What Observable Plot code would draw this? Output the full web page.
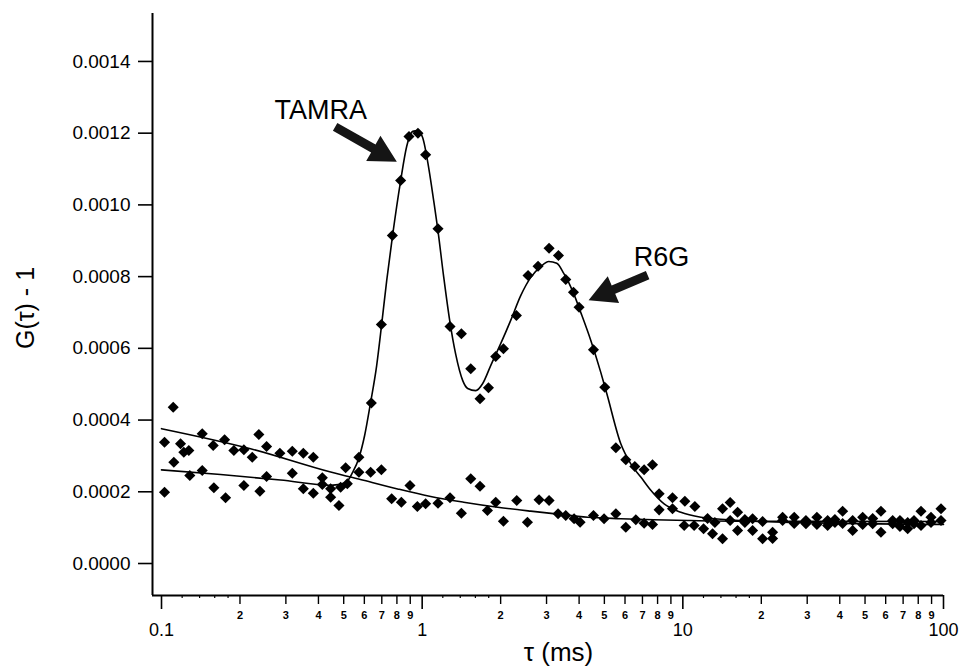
<!DOCTYPE html>
<html><head><meta charset="utf-8">
<script src="https://cdn.jsdelivr.net/npm/d3@7"></script>
<script src="https://cdn.jsdelivr.net/npm/@observablehq/plot@0.6"></script>
<style>body{margin:0;background:#fff}</style>
</head><body><div id="chart"></div>
<script>
// ---- Scatter series A (two-component sample, peaked) ----
const tauA = [0.1027, 0.1115, 0.1218, 0.1284, 0.1433, 0.1588, 0.1761, 0.2070, 0.2385, 0.2530,
  0.3175, 0.3500, 0.3823, 0.4140, 0.4455, 0.4866, 0.5163, 0.5719, 0.6383, 0.6974,
  0.7685, 0.8268, 0.8900, 0.9635, 1.031, 1.150, 1.279, 1.414, 1.536, 1.667,
  1.796, 1.915, 2.050, 2.299, 2.548, 2.783, 3.068, 3.333, 3.555, 3.806,
  3.999, 4.541, 5.018, 5.534, 6.042, 6.544, 7.103, 7.650, 8.110, 9.129,
  10.18, 11.12, 12.44, 13.27, 14.20, 15.19, 16.22, 17.30, 18.52, 20.23,
  22.10, 24.14, 26.75, 29.66, 32.68, 35.93, 38.32, 41.02, 44.82, 48.97,
  53.50, 57.54, 63.83, 68.07, 72.87, 77.05, 81.97, 89.54, 97.81];
const gA = [0.0001988, 0.0002825, 0.0003104, 0.0002454, 0.0002593, 0.0002111, 0.0001832, 0.0002175, 0.0002016, 0.0002426,
  0.0002518, 0.0002083, 0.0001960, 0.0002203, 0.0002083, 0.0002128, 0.0002223, 0.0002964, 0.0004476, 0.0006665,
  0.0009147, 0.0010680, 0.0011907, 0.0011999, 0.0011397, 0.0009333, 0.0006609, 0.0006405, 0.0005429, 0.0004593,
  0.0004900, 0.0005772, 0.0005987, 0.0006916, 0.0008031, 0.0008291, 0.0008792, 0.0008589, 0.0007920, 0.0007565,
  0.0007147, 0.0005959, 0.0004916, 0.0003226, 0.0002892, 0.0002705, 0.0002613, 0.0002752, 0.0001944, 0.0001832,
  0.0001737, 0.0001589, 0.0001255, 0.0001143, 0.0000689, 0.0001199, 0.0000920, 0.0001143, 0.0000920, 0.0000689,
  0.0000697, 0.0001199, 0.0001115, 0.0001107, 0.0001291, 0.0001060, 0.0001143, 0.0001458, 0.0000920, 0.0001291,
  0.0001107, 0.0001458, 0.0001107, 0.0001199, 0.0000968, 0.0001107, 0.0001458, 0.0001291, 0.0001525];

// ---- Scatter series B (single decaying component) ----
const tauB = [0.1027, 0.1109, 0.1183, 0.1273, 0.1433, 0.1579, 0.1746, 0.1895, 0.2070, 0.2229,
  0.2363, 0.2530, 0.2845, 0.3175, 0.3500, 0.3823, 0.4140, 0.4455, 0.4794, 0.5086,
  0.5719, 0.6343, 0.6974, 0.7637, 0.8320, 0.8979, 0.9584, 1.031, 1.150, 1.279,
  1.414, 1.536, 1.667, 1.780, 1.915, 2.050, 2.306, 2.534, 2.808, 3.068,
  3.322, 3.555, 3.827, 4.035, 4.541, 4.987, 5.534, 6.042, 6.602, 7.103,
  7.650, 8.110, 9.129, 10.12, 11.05, 12.01, 13.00, 14.20, 15.19, 16.22,
  17.30, 18.52, 20.23, 22.10, 24.14, 26.75, 29.66, 32.68, 35.93, 38.32,
  41.02, 44.82, 48.97, 53.50, 57.54, 63.83, 68.07, 72.87, 77.05, 81.97, 89.54, 97.81];
const gB = [0.0003383, 0.0004359, 0.0003338, 0.0003151, 0.0003617, 0.0003291, 0.0003449, 0.0003151, 0.0003171, 0.0002964,
  0.0003597, 0.0003263, 0.0003076, 0.0003132, 0.0003076, 0.0002964, 0.0002390, 0.0001849, 0.0001617, 0.0002669,
  0.0002546, 0.0002546, 0.0002613, 0.0001804, 0.0001709, 0.0002175, 0.0001589, 0.0001665, 0.0001682, 0.0001832,
  0.0001403, 0.0002362, 0.0002156, 0.0001478, 0.0001709, 0.0001180, 0.0001757, 0.0001152, 0.0001776, 0.0001757,
  0.0001386, 0.0001339, 0.0001247, 0.0001152, 0.0001339, 0.0001247, 0.0001386, 0.0001012, 0.0001219, 0.0001124,
  0.0001088, 0.0001497, 0.0001525, 0.0001060, 0.0001060, 0.0000968, 0.0000828, 0.0001525, 0.0001701, 0.0001431,
  0.0001227, 0.0001247, 0.0001171, 0.0000873, 0.0001291, 0.0001291, 0.0001199, 0.0001088, 0.0001199, 0.0001227,
  0.0001115, 0.0001199, 0.0001088, 0.0001255, 0.0000873, 0.0001199, 0.0001032, 0.0001143, 0.0001199, 0.0001060, 0.0001143, 0.0001199];

// ---- Fitted curves ----
const fitTauA = [0.1, 0.1685, 0.286, 0.4455, 0.509, 0.541, 0.571, 0.6015, 0.634, 0.669,
  0.699, 0.731, 0.770, 0.827, 0.872, 0.920, 0.961, 1.004, 1.059, 1.107,
  1.147, 1.209, 1.275, 1.345, 1.431, 1.495, 1.605, 1.707, 1.832, 2.001,
  2.186, 2.388, 2.610, 2.851, 3.059, 3.284, 3.493, 3.783, 4.060, 4.436,
  4.844, 5.108, 5.781, 6.315, 6.898, 7.536, 8.476, 9.824, 11.73, 14.85, 28.38, 100];
const fitGA = [0.000261, 0.000248, 0.000233, 0.000218, 0.000225, 0.000254, 0.000293, 0.000357, 0.000449, 0.000552,
  0.000666, 0.000789, 0.000915, 0.001068, 0.001163, 0.001205, 0.001207, 0.001188, 0.001104, 0.001012,
  0.000934, 0.000800, 0.000678, 0.000583, 0.000510, 0.000488, 0.000482, 0.000502, 0.000552, 0.000613,
  0.000678, 0.000747, 0.000798, 0.000828, 0.000842, 0.000837, 0.000809, 0.000759, 0.000700, 0.000622,
  0.000533, 0.000474, 0.000334, 0.000278, 0.000241, 0.000204, 0.000166, 0.000143, 0.000129, 0.000122, 0.000114, 0.000109];
const fitTauB = [0.1, 0.2196, 0.4455, 0.596, 0.805, 1.078, 1.443, 1.949, 2.610, 3.198, 4.318, 5.781, 7.738, 10.45, 16.70, 100];
const fitGB = [0.000376, 0.000320, 0.000255, 0.000232, 0.000208, 0.000187, 0.000171, 0.000157, 0.000146, 0.000139, 0.000129, 0.000125, 0.000122, 0.000120, 0.000118, 0.000117];

// ---- Annotations ----
const labelText = ["TAMRA", "R6G"];
const labelTau = [0.2716, 6.486];
const labelG = [0.001265, 0.000855];
const arrowTailTau = [0.4656, 7.36];
const arrowTailG = [0.001216, 0.000803];
const arrowTipTau = [0.803, 4.368];
const arrowTipG = [0.001119, 0.000733];

// ---- Axes ----
const xDomain = [0.09235, 100];
const yDomain = [-0.0000892, 0.0015337];
const yTicks = [0, 0.0002, 0.0004, 0.0006, 0.0008, 0.0010, 0.0012, 0.0014];
const majorTicks = [0.1, 1, 10, 100];
const majorLabels = ["0.1", "1", "10", "100"];
const minorTicks = [0.2, 0.3, 0.4, 0.5, 0.6, 0.7, 0.8, 0.9, 2, 3, 4, 5, 6, 7, 8, 9, 20, 30, 40, 50, 60, 70, 80, 90];
const minorLabels = ["2", "3", "4", "5", "6", "7", "8", "9", "2", "3", "4", "5", "6", "7", "8", "9", "2", "3", "4", "5", "6", "7", "8", "9"];
const tinyTicks = [0.12, 0.14, 0.16, 0.18, 1.2, 1.4, 1.6, 1.8, 12, 14, 16, 18];
const xTitle = "τ (ms)";
const yTitle = "G(τ) - 1";

const ptsA = tauA.map((t, i) => ({tau: t, g: gA[i]}));
const ptsB = tauB.map((t, i) => ({tau: t, g: gB[i]}));
const fitA = fitTauA.map((t, i) => ({tau: t, g: fitGA[i]}));
const fitB = fitTauB.map((t, i) => ({tau: t, g: fitGB[i]}));
const labels = labelText.map((s, i) => ({text: s, tau: labelTau[i], g: labelG[i]}));
const minorData = minorTicks.map((t, i) => ({tau: t, label: minorLabels[i]}));
const majorData = majorTicks.map((t, i) => ({tau: t, label: majorLabels[i]}));

function arrowMark(index, scales) {
  const grp = d3.create("svg:g");
  const L = 27, W = 14.5, w = 4.5;
  for (let i = 0; i < arrowTailTau.length; i++) {
    const sx = scales.x(arrowTailTau[i]), sy = scales.y(arrowTailG[i]);
    const tx = scales.x(arrowTipTau[i]), ty = scales.y(arrowTipG[i]);
    const len = Math.hypot(tx - sx, ty - sy);
    const ux = (tx - sx) / len, uy = (ty - sy) / len;
    const nx = -uy, ny = ux;
    const bx = tx - ux * L, by = ty - uy * L;
    const pts = [
      [sx + nx * w, sy + ny * w], [bx + nx * w, by + ny * w], [bx + nx * W, by + ny * W],
      [tx, ty],
      [bx - nx * W, by - ny * W], [bx - nx * w, by - ny * w], [sx - nx * w, sy - ny * w]
    ];
    grp.append("polygon").attr("points", pts.map(p => p.join(",")).join(" ")).attr("fill", "#151515");
  }
  return grp.node();
}

function titleMark(index, scales, values, dims) {
  const grp = d3.create("svg:g").attr("fill", "#000");
  const cx = (dims.marginLeft + dims.width - dims.marginRight) / 2;
  const cy = (dims.marginTop + dims.height - dims.marginBottom) / 2;
  grp.append("text").attr("x", cx + 11).attr("y", dims.height - 7)
    .attr("text-anchor", "middle").attr("font-size", 26).text(xTitle);
  grp.append("text").attr("transform", `translate(${dims.marginLeft - 118},${cy + 4}) rotate(-90)`)
    .attr("text-anchor", "middle").attr("font-size", 25).text(yTitle);
  return grp.node();
}

const chart = Plot.plot({
  width: 960, height: 668,
  marginLeft: 152, marginRight: 17, marginTop: 13, marginBottom: 73,
  style: {fontFamily: "'Liberation Sans', Arial, sans-serif", background: "#fff", color: "#000", overflow: "visible"},
  x: {type: "log", domain: xDomain},
  y: {domain: yDomain},
  marks: [
    Plot.axisY({ticks: yTicks, tickFormat: d3.format(".4f"), tickSize: 14, tickPadding: 8, fontSize: 19, label: null, strokeWidth: 1.6}),
    Plot.axisX({ticks: majorTicks, tickFormat: () => "", tickSize: 14, label: null, strokeWidth: 1.6}),
    Plot.axisX({ticks: minorTicks, tickFormat: () => "", tickSize: 9, label: null, strokeWidth: 1.4}),
    Plot.axisX({ticks: tinyTicks, tickFormat: () => "", tickSize: 3, label: null, strokeWidth: 1.2}),
    Plot.text(majorData, {x: "tau", text: "label", frameAnchor: "bottom", lineAnchor: "top", dy: 27.6, fontSize: 18, fill: "#000"}),
    Plot.text(minorData, {x: "tau", text: "label", frameAnchor: "bottom", lineAnchor: "top", dy: 15.2, fontSize: 11, fontWeight: "bold", fill: "#000"}),
    Plot.ruleX([xDomain[0]], {stroke: "#000", strokeWidth: 2}),
    Plot.ruleY([yDomain[0]], {stroke: "#000", strokeWidth: 2}),
    Plot.line(fitB, {x: "tau", y: "g", curve: "monotone-x", stroke: "#000", strokeWidth: 1.6}),
    Plot.line(fitA, {x: "tau", y: "g", curve: "monotone-x", stroke: "#000", strokeWidth: 1.6}),
    Plot.dot(ptsB, {x: "tau", y: "g", symbol: "diamond2", r: 5, fill: "#000", stroke: "none"}),
    Plot.dot(ptsA, {x: "tau", y: "g", symbol: "diamond2", r: 5, fill: "#000", stroke: "none"}),
    arrowMark,
    Plot.text(labels, {x: "tau", y: "g", text: "text", textAnchor: "start", fontSize: 27, fill: "#000"}),
    titleMark
  ]
});
document.getElementById("chart").appendChild(chart);
</script>
</body></html>
